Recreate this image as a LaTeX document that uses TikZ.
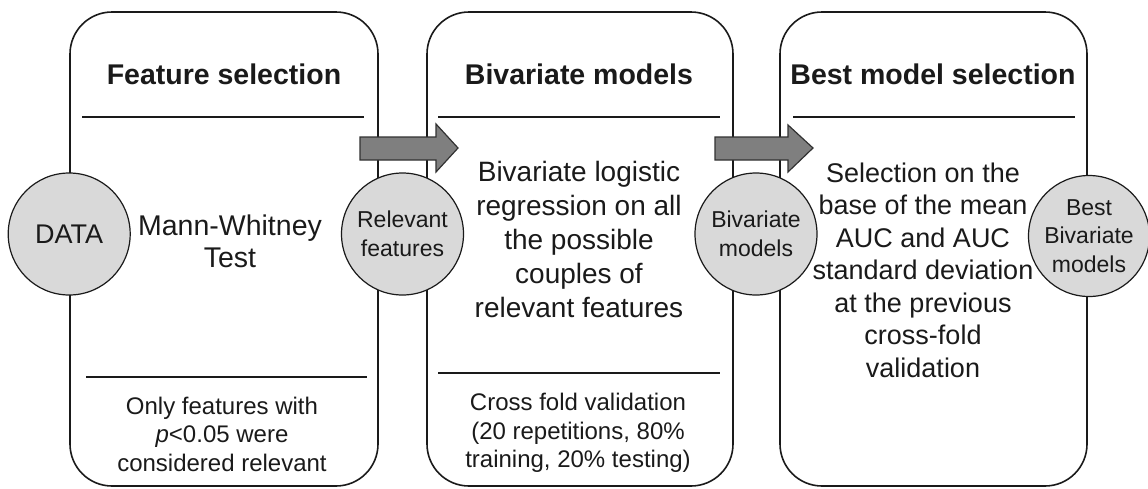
\documentclass[tikz,border=0pt]{standalone}
\usepackage{fontspec}
\setmainfont{Liberation Sans}
\definecolor{circfill}{HTML}{D9D9D9}
\definecolor{arrfill}{HTML}{7F7F7F}
\definecolor{ink}{HTML}{1A1A1A}
\tikzset{
  stage/.style={draw=ink, line width=1.6pt, rounded corners=42pt, minimum width=#1, minimum height=474pt, inner sep=0pt},
  io/.style={circle, draw=ink, line width=1.2pt, fill=circfill, minimum size=122pt, inner sep=0pt, align=center, text=ink, font=\fontsize{23}{28.5}\selectfont},
  sep/.style={draw=ink, line width=2.4pt},
  blockarrow/.style={draw=ink!90, line width=1.2pt, fill=arrfill, line join=miter},
  title/.style={font=\fontsize{28.5}{32}\selectfont\bfseries, text=ink},
  body/.style={align=center, text=ink, inner sep=0pt},
  note/.style={align=center, text=ink, inner sep=0pt, font=\fontsize{24}{28.5}\selectfont},
}
\begin{document}
\begin{tikzpicture}[x=1pt, y=-1pt]
\useasboundingbox (0,0) rectangle (1148,488);
% stage boxes
\node[stage=308pt] (box1) at (224,249) {};
\node[stage=306pt] (box2) at (580,249) {};
\node[stage=307pt] (box3) at (933.5,249) {};
% separator lines
\draw[sep] (82,117) -- (364,117);
\draw[sep] (86,377) -- (367,377);
\draw[sep] (438,117) -- (720,117);
\draw[sep] (438,373) -- (720,373);
\draw[sep] (793,117) -- (1075,117);
% titles
\node[title] (t1) at (224,74) {Feature selection};
\node[title] (t2) at (579,74) {Bivariate models};
\node[title] (t3) at (933,74) {Best model selection};
% body texts
\node[body, font=\fontsize{28.5}{32}\selectfont] (b1) at (230,241) {Mann-Whitney\\Test};
\node[body, font=\fontsize{28}{34}\selectfont] (b2) at (579,239) {Bivariate logistic\\regression on all\\the possible\\couples of\\relevant features};
\node[body, font=\fontsize{27}{32.5}\selectfont] (b3) at (923,270) {Selection on the\\base of the mean\\AUC and AUC\\standard deviation\\at the previous\\cross-fold\\validation};
% notes
\node[note] (n1) at (222,434) {Only features with\\\textit{p}<0.05 were\\considered relevant};
\node[note] (n2) at (578,433) {Cross fold validation\\(20 repetitions, 80\%\\training, 20\% testing)};
% block arrows
\draw[blockarrow] (360,137) -- (436,137) -- (436,124) -- (458,148) -- (436,172) -- (436,160) -- (360,160) -- cycle;
\draw[blockarrow] (715,137) -- (788,137) -- (788,125) -- (813,148) -- (788,172) -- (788,160) -- (715,160) -- cycle;
% data circles
\node[io, font=\fontsize{27}{32}\selectfont] (data) at (box1.west |- 0,234) {DATA};
\node[io] (rel) at (402.5,234) {Relevant\\features};
\node[io] (biv) at (756,234) {Bivariate\\models};
\node[io, minimum size=121pt] (best) at (1089,236) {Best\\Bivariate\\models};
\end{tikzpicture}
\end{document}
